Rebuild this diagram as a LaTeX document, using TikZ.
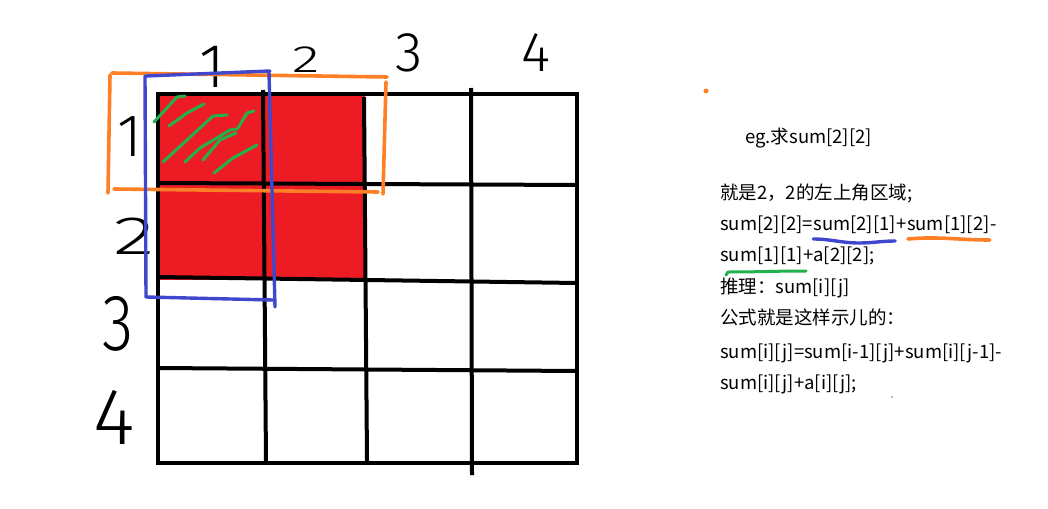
\documentclass[tikz,border=0pt]{standalone}
\usepackage{fontspec}
\usetikzlibrary{positioning}
\newfontfamily\cjkfont{Noto Sans CJK SC}
\newfontfamily\handfont{Fira Sans}[UprightFont={* Light}]
\definecolor{PSRed}{HTML}{ED1C24}
\definecolor{PSOrange}{HTML}{FF7F27}
\definecolor{PSBlue}{HTML}{3F48CC}
\definecolor{PSGreen}{HTML}{22B14C}
\definecolor{PSInk}{HTML}{000000}
\tikzset{
  gridline/.style={PSInk,line width=4pt},
  penorange/.style={PSOrange,line width=3.6pt,line cap=round},
  penblue/.style={PSBlue,line width=3.4pt,line cap=round},
  pengreen/.style={PSGreen,line width=3pt,line cap=round,line join=round},
  digit/.style={text=PSInk,font=\handfont\fontsize{#1}{#1}\selectfont,inner sep=0pt},
  digit/.default=56,
  note/.style={text=PSInk,font=\cjkfont\fontsize{18.5}{21}\selectfont,inner sep=0pt,anchor=base west},
}

\begin{document}
\begin{tikzpicture}[x=1pt,y=-1pt]
    \useasboundingbox (0,0) rectangle (1048,508);

    % ------------------------------------------------------------ red region
    \fill[PSRed] (158,94) rectangle (365,280);

    % ------------------------------------------------------------ 4x4 grid
    \draw[gridline] (158,94) rectangle (577,463);
    \draw[gridline] (263,90) -- (266,463);
    \draw[gridline] (364,97) -- (367,461);
    \draw[gridline] (471,88) -- (472,475);
    \draw[gridline] (158,183) -- (577,185);
    \draw[gridline] (158,277) -- (577,283);
    \draw[gridline] (158,368) -- (577,371);

    % ------------------------------------------------------------ row / column numbers
    \node[digit=62] (col1) at (212,67) {1};
    \node[digit=38] (col2) at (306,60) {\scalebox{1.5}[1]{2}};
    \node[digit]    (col3) at (409,53) {3};
    \node[digit]    (col4) at (536,53) {4};
    \node[digit=60] (row1) at (130,137) {1};
    \node[digit=54] (row2) at (134,236) {\scalebox{1.6}[1]{2}};
    \node[digit=80] (row3) at (118,324) {\scalebox{0.8}[1]{3}};
    \node[digit=80] (row4) at (114,417) {4};

    % ------------------------------------------------------------ marker boxes
    \draw[penorange] (112,73) -- (387,77);
    \draw[penorange] (386,82) -- (383,194);
    \draw[penorange] (114,189) -- (378,192);
    \draw[penorange] (110,75) -- (108,193);
    \draw[penblue] (146,76) -- (270,71);
    \draw[penblue] (269,72) -- (275,307);
    \draw[penblue] (146,297) -- (273,300);
    \draw[penblue] (145,76) -- (146,297);

    % green hatching of cell (1,1)
    \draw[pengreen] (154,122) -- (177,97) -- (185,96);
    \draw[pengreen] (169,126) -- (187,113) -- (204,104);
    \draw[pengreen] (163,162) -- (213,116) -- (227,115);
    \draw[pengreen] (185,162) -- (200,148) -- (230,130) -- (237,129);
    \draw[pengreen] (203,160) -- (220,140) -- (236,133);
    \draw[pengreen] (238,128) -- (247,113) -- (254,111);
    \draw[pengreen] (214,173) -- (233,158) -- (257,145);

    % ------------------------------------------------------------ notes
    \fill[PSOrange] (706,91) circle (2.5);
    \node[note] (eg) at (745,143) {eg.求sum[2][2]};
    \node[note] (l2) at (720,199) {就是2，2的左上角区域;};
    \node[note] (l3a) at (720,230) {sum[2][2]=};
    \node[note] (s21) at (l3a.base east) {sum[2][1]};
    \node[note] (l3b) at (s21.base east) {+};
    \node[note] (s12) at (l3b.base east) {sum[1][2]};
    \node[note] (l3c) at (s12.base east) {-};
    \node[note] (s11) at (720,261) {sum[1][1]};
    \node[note] (l4b) at (s11.base east) {+a[2][2];};
    \node[note] (l5) at (720,293) {推理：sum[i][j]};
    \node[note] (l6) at (720,324) {公式就是这样示儿的：};
    \node[note] (l7) at (720,358) {sum[i][j]=sum[i-1][j]+sum[i][j-1]-};
    \node[note] (l8) at (720,389) {sum[i][j]+a[i][j];};

    \draw[penblue] ([shift={(0,9)}]s21.base west) to[out=0,in=180] ++(46,4)
      to[out=0,in=180] ++(36,-2);
    \draw[penorange] ([shift={(1,9)}]s12.base west) to[out=5,in=180] ++(82,1);
    \draw[pengreen] ([shift={(6,14)}]s11.base west) -- ++(2,-3) to[out=0,in=180] ++(78,-1);
    \fill[PSGreen] (892,397) circle (0.8);
  \end{tikzpicture}
\end{document}
